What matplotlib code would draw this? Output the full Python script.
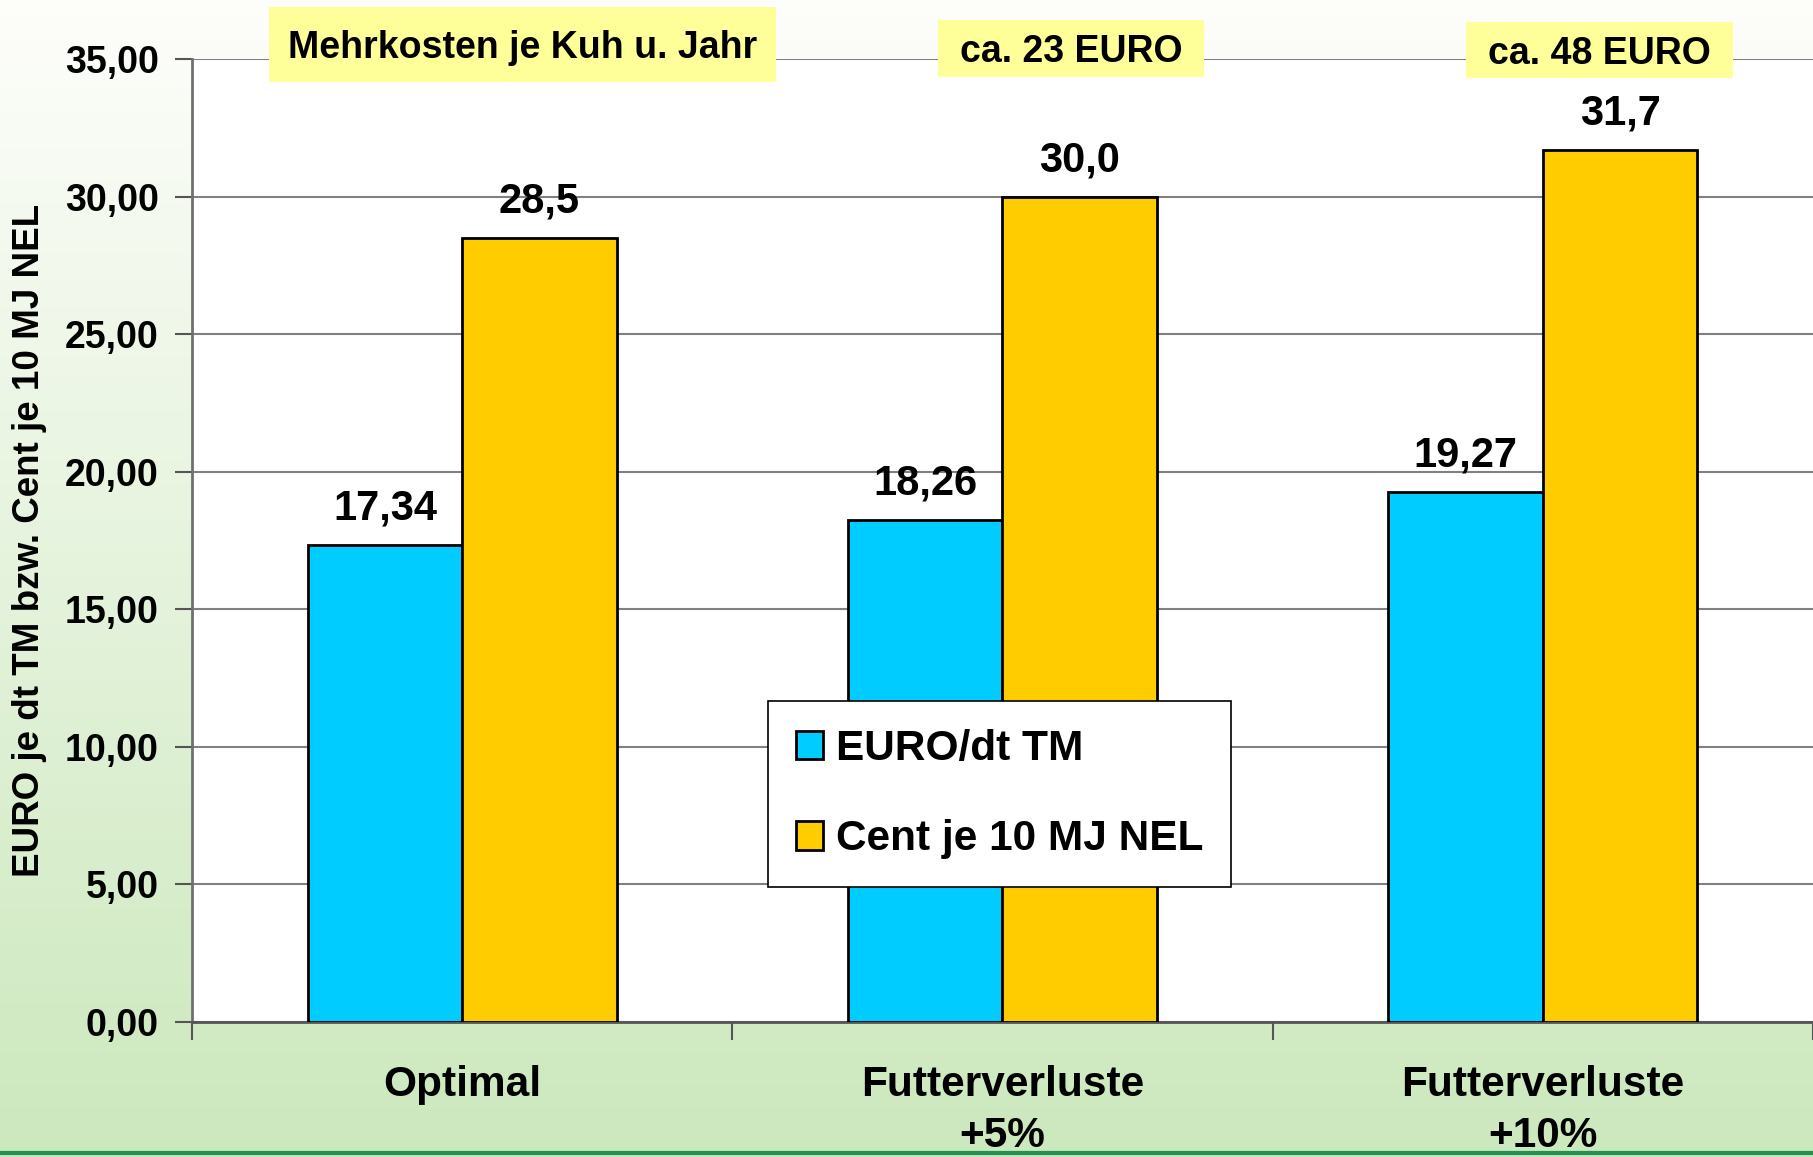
"""Futterkosten: EURO je dt TM bzw. Cent je 10 MJ NEL bei Futterverlusten."""

import matplotlib

matplotlib.use("Agg")
import matplotlib.pyplot as plt
import numpy as np
from matplotlib.lines import Line2D
from matplotlib.patches import Rectangle

CATEGORIES = ["Optimal", "Futterverluste\n+5%", "Futterverluste\n+10%"]
EURO_DT_TM = [17.34, 18.26, 19.27]
CENT_10MJ_NEL = [28.5, 30.0, 31.7]
SERIES_NAMES = ["EURO/dt TM", "Cent je 10 MJ NEL"]
COST_NOTES = ["Mehrkosten je Kuh u. Jahr", "ca. 23 EURO", "ca. 48 EURO"]
Y_TICKS = [0, 5, 10, 15, 20, 25, 30, 35]
Y_LABEL = "EURO je dt TM bzw. Cent je 10 MJ NEL"

W, H = 1813, 1157
BLUE = "#00ccff"
ORANGE = "#ffcc00"
NOTE_BG = "#ffff99"
FONT = "Liberation Sans"


def de(value: float, digits: int) -> str:
    return f"{value:.{digits}f}".replace(".", ",")


def main() -> None:
    plt.rcParams["font.family"] = [FONT, "DejaVu Sans"]
    plt.rcParams["font.weight"] = "bold"
    fig = plt.figure(figsize=(W / 100, H / 100), dpi=100)

    # vertical gradient background: near white on top, light green at the bottom
    bg = fig.add_axes([0, 0, 1, 1], zorder=-10)
    top = np.array([0.995, 0.995, 0.985])
    bottom = np.array([0.80, 0.91, 0.74])
    t = np.linspace(0, 1, 256)[:, None]
    grad = top + (bottom - top) * t
    bg.imshow(grad[:, None, :].repeat(2, axis=1), aspect="auto", extent=[0, 1, 0, 1])
    bg.axis("off")

    ax = fig.add_axes([192 / W, 1 - 1022 / H, 1 - 192 / W, (1022 - 59) / H])
    ax.set_facecolor("white")

    x = np.arange(len(CATEGORIES))
    width = 0.286
    bars_a = ax.bar(x - width / 2, EURO_DT_TM, width, color=BLUE, edgecolor="black", linewidth=2, label=SERIES_NAMES[0], zorder=3)
    bars_b = ax.bar(x + width / 2, CENT_10MJ_NEL, width, color=ORANGE, edgecolor="black", linewidth=2, label=SERIES_NAMES[1], zorder=3)

    for bar, value in zip(bars_a, EURO_DT_TM):
        ax.annotate(de(value, 2), (bar.get_x() + bar.get_width() / 2, bar.get_height()), xytext=(0, 18),
                    textcoords="offset points", ha="center", va="baseline", fontsize=30, fontweight="bold")
    for bar, value in zip(bars_b, CENT_10MJ_NEL):
        ax.annotate(de(value, 1), (bar.get_x() + bar.get_width() / 2, bar.get_height()), xytext=(0, 18),
                    textcoords="offset points", ha="center", va="baseline", fontsize=30, fontweight="bold")

    ax.set_xlim(-0.5, len(CATEGORIES) - 0.5)
    ax.set_ylim(Y_TICKS[0], Y_TICKS[-1])
    ax.set_yticks(Y_TICKS)
    ax.set_yticklabels([de(v, 2) for v in Y_TICKS], fontsize=27, fontweight="bold")
    ax.yaxis.grid(True, color="#808080", linewidth=1.5, zorder=0)
    ax.tick_params(axis="y", length=12, width=1.5, color="#555555", pad=12)

    ax.set_xticks(np.arange(-0.5, len(CATEGORIES) + 0.5, 1.0))
    ax.set_xticklabels([])
    ax.tick_params(axis="x", which="major", length=13, width=1.5, color="#555555")
    ax.set_xticks(x, minor=True)
    ax.set_xticklabels(CATEGORIES, minor=True, fontsize=30.5, fontweight="bold", linespacing=1.36)
    ax.tick_params(axis="x", which="minor", length=0, pad=31)

    for side in ["top", "right"]:
        ax.spines[side].set_visible(False)
    ax.spines["left"].set_color("#707070")
    ax.spines["left"].set_linewidth(2)
    ax.spines["bottom"].set_color("#555555")
    ax.spines["bottom"].set_linewidth(2)

    leg = ax.legend(loc="upper left", bbox_to_anchor=(768 / W, 1 - 701 / H), bbox_transform=fig.transFigure,
                    fontsize=30.5, frameon=True, fancybox=False, framealpha=1, edgecolor="black",
                    handlelength=0.65, handleheight=0.65, handletextpad=0.3, labelspacing=1.2,
                    borderpad=0.65, borderaxespad=0)
    leg.get_frame().set_linewidth(1.2)
    for text in leg.get_texts():
        text.set_fontweight("bold")
    for handle in leg.legend_handles:
        handle.set_linewidth(2)

    fig.text(30 / W, 1 - 540 / H, Y_LABEL, rotation=90, ha="center", va="center", fontsize=26.5, fontweight="bold")

    # yellow note boxes above the chart
    boxes = [(269, 7, 776, 82), (938, 20, 1204, 77), (1466, 22, 1733, 78)]
    for (x0, y0, x1, y1), note in zip(boxes, COST_NOTES):
        fig.patches.append(Rectangle((x0 / W, 1 - y1 / H), (x1 - x0) / W, (y1 - y0) / H,
                                     transform=fig.transFigure, facecolor=NOTE_BG, edgecolor="none", zorder=5))
        fig.text((x0 + x1) / 2 / W, 1 - (y0 + y1) / 2 / H, note, ha="center", va="center_baseline",
                 fontsize=27, fontweight="bold", zorder=6)

    fig.add_artist(Line2D([0, 1], [1 - 1153 / H, 1 - 1153 / H], transform=fig.transFigure, color="#1f9150", linewidth=3))

    fig.savefig("out.png", dpi=100)
    plt.close(fig)


if __name__ == "__main__":
    main()
